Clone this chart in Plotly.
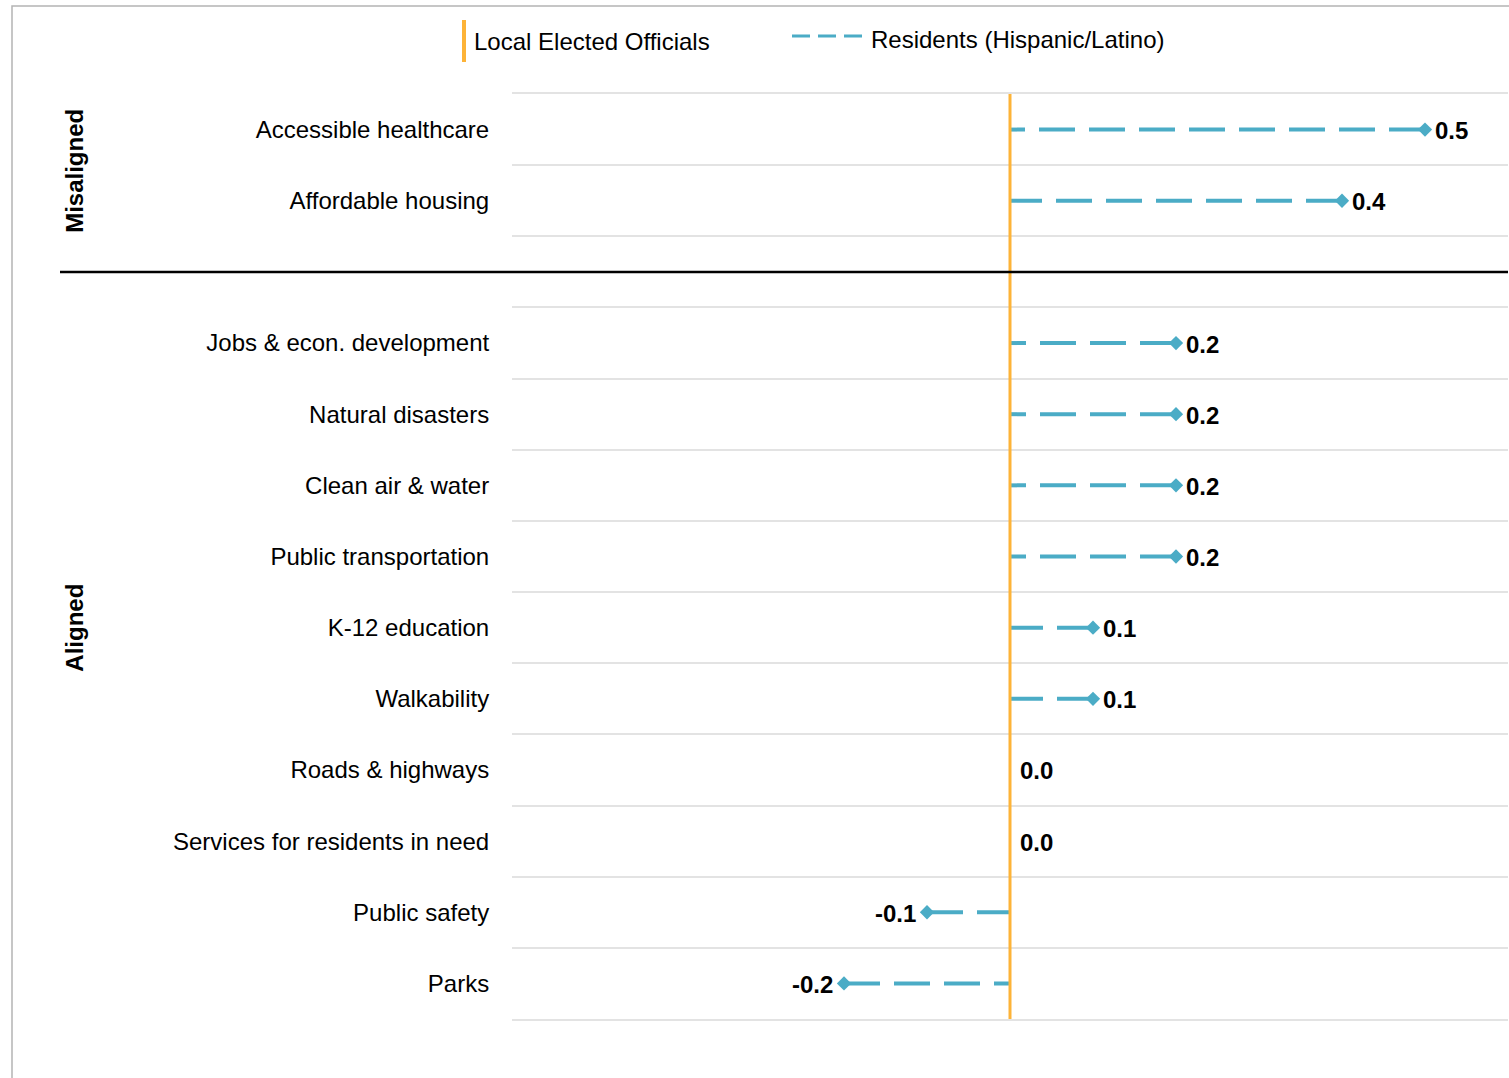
import plotly.graph_objects as go

# ---------------- data ----------------
categories = [
    "Accessible healthcare", "Affordable housing",
    "Jobs & econ. development", "Natural disasters", "Clean air & water",
    "Public transportation", "K-12 education", "Walkability",
    "Roads & highways", "Services for residents in need", "Public safety", "Parks",
]
groups = ["Misaligned", "Misaligned",
          "Aligned", "Aligned", "Aligned", "Aligned", "Aligned", "Aligned",
          "Aligned", "Aligned", "Aligned", "Aligned"]
residents_gap = [0.5, 0.4, 0.2, 0.2, 0.2, 0.2, 0.1, 0.1, 0.0, 0.0, -0.1, -0.2]
officials_baseline = 0.0
legend_names = ["Local Elected Officials", "Residents (Hispanic/Latino)"]

# ---------------- style ----------------
FONT = "Liberation Sans, Arial, Helvetica, sans-serif"
ORANGE = "#FDB338"
BLUE = "#4BACC6"
GRID = "#E3E3E3"
FS = 24

W, H = 1509, 1078
L, R, T, B = 512, 1, 94, 59

# row positions: misaligned rows, one empty spacer row, then aligned rows
rows = []
r = 0
prev = groups[0]
for g in groups:
    if g != prev:
        r += 1  # spacer row
        prev = g
    rows.append(r)
    r += 1
n_rows = r
spacer_row = rows[groups.index("Aligned")] - 1

fig = go.Figure()

# dashed residents lines (from value back to officials baseline)
for v, y in zip(residents_gap, rows):
    if v != officials_baseline:
        fig.add_trace(go.Scatter(
            x=[v, officials_baseline], y=[y, y], mode="lines",
            line=dict(color=BLUE, width=4, dash="36px,14px"),
            showlegend=False, hoverinfo="skip"))

# diamond markers
fig.add_trace(go.Scatter(
    x=[v for v in residents_gap if v != officials_baseline],
    y=[y for v, y in zip(residents_gap, rows) if v != officials_baseline],
    mode="markers",
    marker=dict(symbol="diamond", size=11, color=BLUE),
    showlegend=False, hoverinfo="skip", cliponaxis=False))

# value labels
for v, y in zip(residents_gap, rows):
    neg = v < 0
    fig.add_annotation(
        x=v, y=y, xref="x", yref="y", text=f"<b>{v:.1f}</b>", showarrow=False,
        xanchor="right" if neg else "left", yanchor="middle",
        xshift=-9 if neg else 8, yshift=-1,
        font=dict(family=FONT, size=FS, color="black"))

# officials baseline
fig.add_vline(x=officials_baseline, line=dict(color=ORANGE, width=3), layer="above")

def px_x(px):
    return (px - L) / (W - L - R)

def px_y(py):
    return (H - B - py) / (H - T - B)

# separator line
fig.add_shape(type="line", xref="paper", yref="y", x0=px_x(60), x1=1, y0=spacer_row, y1=spacer_row,
              line=dict(color="black", width=2.5))

# frame (top and left edges visible)
fig.add_shape(type="rect", xref="paper", yref="paper", x0=px_x(12), x1=px_x(1530),
              y0=px_y(1100), y1=px_y(6), line=dict(color="#B4B4B4", width=1.5))

# group labels
fig.add_annotation(text="<b>Misaligned</b>", xref="paper", yref="y", x=px_x(75), y=0.58,
                   textangle=-90, showarrow=False, font=dict(family=FONT, size=FS, color="black"),
                   xanchor="center", yanchor="middle")
fig.add_annotation(text="<b>Aligned</b>", xref="paper", yref="y", x=px_x(75), y=7.0,
                   textangle=-90, showarrow=False, font=dict(family=FONT, size=FS, color="black"),
                   xanchor="center", yanchor="middle")

# custom legend
fig.add_shape(type="line", xref="paper", yref="paper", x0=px_x(464), x1=px_x(464),
              y0=px_y(20), y1=px_y(62), line=dict(color=ORANGE, width=4))
fig.add_annotation(text=legend_names[0], xref="paper", yref="paper", x=px_x(472), y=px_y(42),
                   xanchor="left", yanchor="middle", showarrow=False,
                   font=dict(family=FONT, size=FS, color="black"))
fig.add_shape(type="line", xref="paper", yref="paper", x0=px_x(792), x1=px_x(862),
              y0=px_y(36), y1=px_y(36), line=dict(color=BLUE, width=3, dash="18px,8px"))
fig.add_annotation(text=legend_names[1], xref="paper", yref="paper", x=px_x(869), y=px_y(40),
                   xanchor="left", yanchor="middle", showarrow=False,
                   font=dict(family=FONT, size=FS, color="black"))

fig.update_layout(
    width=W, height=H,
    margin=dict(l=L, r=R, t=T, b=B, pad=0),
    paper_bgcolor="white", plot_bgcolor="white",
    font=dict(family=FONT, size=FS, color="black"),
    showlegend=False,
    xaxis=dict(range=[-0.6, 0.6], showgrid=False, zeroline=False, showticklabels=False,
               ticks="", showline=True, mirror=True, linecolor=GRID, linewidth=1.5,
               fixedrange=True),
    yaxis=dict(range=[n_rows - 0.5, -0.5], tickmode="array", tickvals=rows, ticktext=categories,
               showgrid=False, zeroline=False, showline=False,
               ticks="outside", ticklen=17, tickcolor="rgba(0,0,0,0)",
               tickfont=dict(family=FONT, size=FS, color="black"),
               minor=dict(tickmode="array", tickvals=[i - 0.5 for i in range(n_rows + 1)],
                          showgrid=True, gridcolor=GRID, gridwidth=1.5, ticks=""),
               fixedrange=True),
)

fig.write_html("out.html", config={"displayModeBar": False},
               post_script="document.body.style.margin='0';")
